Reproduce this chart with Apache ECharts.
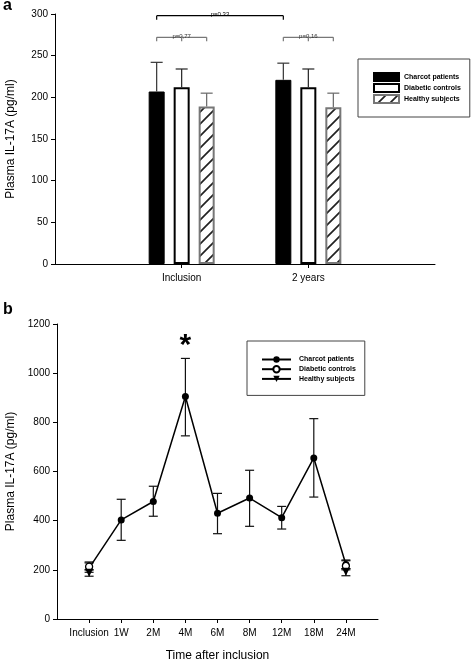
<!DOCTYPE html>
<html><head><meta charset="utf-8">
<script src="https://cdn.jsdelivr.net/npm/echarts/dist/echarts.min.js"></script>
<style>
html,body{margin:0;padding:0;background:#fff;}
#a{position:absolute;left:0;top:0;width:473px;height:300px;}
#b{position:absolute;left:0;top:300px;width:473px;height:371px;}
</style>
</head><body><div id="a"></div><div id="b"></div>
<script>
// ---------- DATA (panel a) ----------
const seriesNames = ['Charcot patients', 'Diabetic controls', 'Healthy subjects'];
const categoriesA = ['', 'Inclusion', '2 years', ''];
const charcotA    = [null, 207, 221, null];
const charcotAErr = [null, 35, 20, null];
const diabeticA    = [null, 212, 212, null];
const diabeticAErr = [null, 22, 22, null];
const healthyA    = [null, 189, 188, null];
const healthyAErr = [null, 16, 17, null];
const yTicksA = [0, 50, 100, 150, 200, 250, 300];
// comparison brackets: [category index, bar index] start/end, level, label
const bracketFrom  = [[1, 0], [1, 0], [2, 0]];
const bracketTo    = [[2, 0], [1, 2], [2, 2]];
const bracketLevel = [298, 272, 272];
const bracketText  = ['p=0.33', 'p=0,77', 'p=0,16'];

// ---------- DATA (panel b) ----------
const categoriesB = ['', 'Inclusion', '1W', '2M', '4M', '6M', '8M', '12M', '18M', '24M', ''];
const charcotB     = [null, 207, 403, 478, 905, 430, 492, 412, 655, 222, null];
const charcotBLow  = [null, 190, 320, 418, 745, 347, 377, 366, 496, 205, null];
const charcotBHigh = [null, 228, 487, 540, 1060, 511, 605, 458, 815, 240, null];
const diabeticB     = [null, 213, null, null, null, null, null, null, null, 216, null];
const diabeticBLow  = [null, 200, null, null, null, null, null, null, null, 200, null];
const diabeticBHigh = [null, 232, null, null, null, null, null, null, null, 237, null];
const healthyB     = [null, 188, null, null, null, null, null, null, null, 192, null];
const healthyBLow  = [null, 174, null, null, null, null, null, null, null, 176, null];
const healthyBHigh = [null, 200, null, null, null, null, null, null, null, 205, null];
const yTicksB = [0, 200, 400, 600, 800, 1000, 1200];
const starCategory = '4M';
const starLevel = 1110;

// ---------- STYLE ----------
const FONT = '"Liberation Sans", Arial, Helvetica, sans-serif';
const BAR_W = 16, BAR_GAP = 9;

function hatchPattern() {
  const s = 12;
  const c = document.createElement('canvas');
  c.width = s; c.height = s;
  const g = c.getContext('2d');
  g.fillStyle = '#fff'; g.fillRect(0, 0, s, s);
  g.strokeStyle = '#222'; g.lineWidth = 1.7;
  g.beginPath();
  g.moveTo(-1, s + 1); g.lineTo(s + 1, -1);
  g.moveTo(-s / 2 - 1, s / 2 + 1); g.lineTo(s / 2 + 1, -s / 2 - 1);
  g.moveTo(s / 2 - 1, 3 * s / 2 + 1); g.lineTo(3 * s / 2 + 1, s / 2 - 1);
  g.stroke();
  return c;
}

const axisText = { color: '#000', fontFamily: FONT, fontSize: 10, formatter: (v) => String(v) };

// ---------- PANEL A ----------
const chartA = echarts.init(document.getElementById('a'), null, { renderer: 'canvas' });
const barStyles = [
  { color: '#000', borderColor: '#000', borderWidth: 1 },
  { color: '#fff', borderColor: '#000', borderWidth: 2 },
  { color: { image: hatchPattern(), repeat: 'repeat' }, borderColor: '#777', borderWidth: 2 }
];
const valsA = [charcotA, diabeticA, healthyA];
const errsA = [charcotAErr, diabeticAErr, healthyAErr];
const errColorA = ['#333', '#222', '#666'];

function errBarA(k) {
  const data = [];
  valsA[k].forEach((v, i) => { if (v != null) data.push([i, v, v + errsA[k][i]]); });
  return {
    type: 'custom', silent: true, z: 5, data: data,
    renderItem: function (params, api) {
      const p0 = api.coord([api.value(0), api.value(1)]);
      const p1 = api.coord([api.value(0), api.value(2)]);
      const cx = p0[0] + (k - 1) * (BAR_W + BAR_GAP);
      const st = { stroke: errColorA[k], lineWidth: 1.2 };
      return { type: 'group', children: [
        { type: 'line', shape: { x1: cx, y1: p0[1], x2: cx, y2: p1[1] }, style: st },
        { type: 'line', shape: { x1: cx - 6, y1: p1[1], x2: cx + 6, y2: p1[1] }, style: st }
      ]};
    }
  };
}

const bracketSeries = {
  type: 'custom', silent: true, z: 6,
  data: bracketLevel.map((lv, i) => [bracketFrom[i][0], lv, i]),
  renderItem: function (params, api) {
    const i = params.dataIndex;
    const lv = bracketLevel[i];
    const off = (b) => (b - 1) * (BAR_W + BAR_GAP);
    const xa = api.coord([bracketFrom[i][0], lv])[0] + off(bracketFrom[i][1]);
    const xb = api.coord([bracketTo[i][0], lv])[0] + off(bracketTo[i][1]);
    const y = api.coord([bracketFrom[i][0], lv])[1];
    const sameGroup = bracketFrom[i][0] === bracketTo[i][0];
    const col = sameGroup ? '#777' : '#000';
    const st = { stroke: col, lineWidth: 1.2 };
    const ch = [
      { type: 'line', shape: { x1: xa, y1: y, x2: xb, y2: y }, style: st },
      { type: 'line', shape: { x1: xa, y1: y, x2: xa, y2: y + 4 }, style: st },
      { type: 'line', shape: { x1: xb, y1: y, x2: xb, y2: y + 4 }, style: st },
      { type: 'text', x: (xa + xb) / 2, y: y + 2, style: { text: bracketText[i], fill: sameGroup ? '#333' : '#000', fontSize: 6, fontFamily: FONT, align: 'center', verticalAlign: 'bottom' } }
    ];
    if (sameGroup) {
      const xm = (xa + xb) / 2;
      ch.push({ type: 'line', shape: { x1: xm, y1: y - 1, x2: xm, y2: y + 4 }, style: st });
    }
    return { type: 'group', children: ch };
  }
};

chartA.setOption({
  animation: false,
  backgroundColor: '#fff',
  title: { text: 'a', left: 3, top: -2, padding: 0, textStyle: { fontSize: 16, fontWeight: 'bold', color: '#000', fontFamily: FONT } },
  grid: { left: 55, right: 38, top: 14, bottom: 36, containLabel: false, outerBoundsMode: 'none' },
  legend: {
    left: 358, top: 59, orient: 'vertical', icon: 'rect',
    itemWidth: 25, itemHeight: 8, itemGap: 1,
    padding: [13, 9, 13, 15], borderColor: '#444', borderWidth: 1,
    selectedMode: false, data: seriesNames,
    textStyle: { fontSize: 7, fontWeight: 'bold', color: '#000', fontFamily: FONT }
  },
  xAxis: {
    type: 'category', data: categoriesA, boundaryGap: false,
    axisLine: { lineStyle: { color: '#000', width: 1 } },
    axisTick: { show: true, length: 4, interval: (i) => categoriesA[i] !== '', lineStyle: { color: '#000' } },
    axisLabel: { interval: 0, margin: 9, color: '#000', fontFamily: FONT, fontSize: 10 },
    splitLine: { show: false }
  },
  yAxis: {
    type: 'value', min: yTicksA[0], max: yTicksA[yTicksA.length - 1], interval: yTicksA[1] - yTicksA[0],
    axisLine: { show: true, lineStyle: { color: '#000', width: 1 } },
    axisTick: { show: true, length: 4, lineStyle: { color: '#000' } },
    axisLabel: Object.assign({ margin: 7 }, axisText),
    splitLine: { show: false },
    name: 'Plasma IL-17A (pg/ml)', nameLocation: 'middle', nameGap: 38,
    nameTextStyle: { fontSize: 12, color: '#000', fontFamily: FONT }
  },
  series: [
    ...valsA.map((d, k) => ({ type: 'bar', name: seriesNames[k], data: d, barWidth: BAR_W, barGap: (BAR_GAP / BAR_W * 100) + '%', itemStyle: barStyles[k], z: 2 })),
    errBarA(0), errBarA(1), errBarA(2), bracketSeries
  ]
});

// ---------- PANEL B ----------
const chartB = echarts.init(document.getElementById('b'), null, { renderer: 'canvas' });
const lowsB = [charcotBLow, diabeticBLow, healthyBLow];
const highsB = [charcotBHigh, diabeticBHigh, healthyBHigh];
function errBarB(k) {
  const data = [];
  lowsB[k].forEach((v, i) => { if (v != null) data.push([i, v, highsB[k][i]]); });
  return {
    type: 'custom', silent: true, z: 2, data: data,
    renderItem: function (params, api) {
      const p0 = api.coord([api.value(0), api.value(1)]);
      const p1 = api.coord([api.value(0), api.value(2)]);
      const st = { stroke: '#111', lineWidth: 1.2 };
      return { type: 'group', children: [
        { type: 'line', shape: { x1: p0[0], y1: p0[1], x2: p1[0], y2: p1[1] }, style: st },
        { type: 'line', shape: { x1: p0[0] - 4.5, y1: p0[1], x2: p0[0] + 4.5, y2: p0[1] }, style: st },
        { type: 'line', shape: { x1: p1[0] - 4.5, y1: p1[1], x2: p1[0] + 4.5, y2: p1[1] }, style: st }
      ]};
    }
  };
}
const starSeries = {
  type: 'custom', silent: true, z: 6,
  data: [[categoriesB.indexOf(starCategory), starLevel]],
  renderItem: function (params, api) {
    const p = api.coord([api.value(0), api.value(1)]);
    return { type: 'text', x: p[0], y: p[1], style: { text: '*', fontSize: 30, fontWeight: 'bold', fontFamily: FONT, fill: '#000', align: 'center', verticalAlign: 'middle' } };
  }
};

chartB.setOption({
  animation: false,
  backgroundColor: '#fff',
  title: { text: 'b', left: 3, top: 2, padding: 0, textStyle: { fontSize: 16, fontWeight: 'bold', color: '#000', fontFamily: FONT } },
  grid: { left: 57, right: 95, top: 24, bottom: 52, containLabel: false, outerBoundsMode: 'none' },
  legend: {
    left: 247, top: 41, orient: 'vertical',
    itemWidth: 29, itemHeight: 8, itemGap: 2,
    padding: [15, 9, 13, 14], borderColor: '#444', borderWidth: 1,
    selectedMode: false, data: seriesNames,
    textStyle: { fontSize: 7, fontWeight: 'bold', color: '#000', fontFamily: FONT, padding: [0, 0, 0, 3] }
  },
  xAxis: {
    type: 'category', data: categoriesB, boundaryGap: false,
    axisLine: { lineStyle: { color: '#000', width: 1 } },
    axisTick: { show: true, length: 4, interval: (i) => categoriesB[i] !== '', lineStyle: { color: '#000' } },
    axisLabel: { interval: 0, margin: 9, color: '#000', fontFamily: FONT, fontSize: 10 },
    splitLine: { show: false },
    name: 'Time after inclusion', nameLocation: 'middle', nameGap: 31,
    nameTextStyle: { fontSize: 12, color: '#000', fontFamily: FONT }
  },
  yAxis: {
    type: 'value', min: yTicksB[0], max: yTicksB[yTicksB.length - 1], interval: yTicksB[1] - yTicksB[0],
    axisLine: { show: true, lineStyle: { color: '#000', width: 1 } },
    axisTick: { show: true, length: 4, lineStyle: { color: '#000' } },
    axisLabel: Object.assign({ margin: 7 }, axisText),
    splitLine: { show: false },
    name: 'Plasma IL-17A (pg/ml)', nameLocation: 'middle', nameGap: 38,
    nameTextStyle: { fontSize: 12, color: '#000', fontFamily: FONT }
  },
  series: [
    errBarB(0), errBarB(1), errBarB(2),
    { type: 'line', name: seriesNames[0], data: charcotB, symbol: 'circle', symbolSize: 7, showAllSymbol: true, connectNulls: false,
      lineStyle: { color: '#000', width: 1.5 }, itemStyle: { color: '#000' }, z: 3 },
    { type: 'line', name: seriesNames[1], data: diabeticB, symbol: 'circle', symbolSize: 7, showAllSymbol: true, connectNulls: false,
      lineStyle: { color: '#000', width: 1.5 }, itemStyle: { color: '#fff', borderColor: '#000', borderWidth: 1.3 }, z: 4 },
    { type: 'line', name: seriesNames[2], data: healthyB, symbol: 'triangle', symbolRotate: 180, symbolSize: 8, showAllSymbol: true, connectNulls: false,
      lineStyle: { color: '#000', width: 1.5 }, itemStyle: { color: '#000' }, z: 5 },
    starSeries
  ]
});
</script></body></html>
